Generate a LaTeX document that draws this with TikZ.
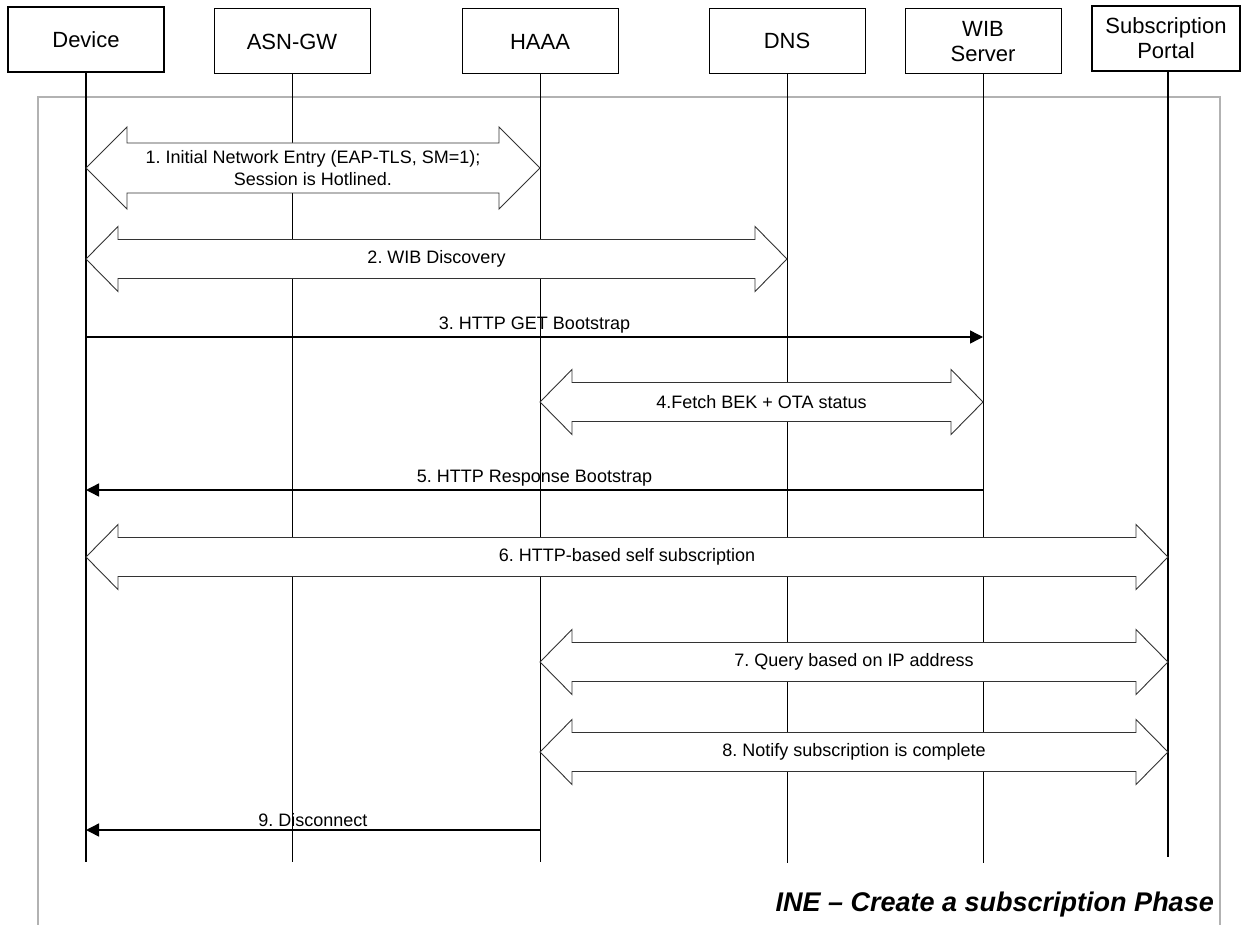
\documentclass[tikz,border=0pt]{standalone}
\usepackage{fontspec}
\setmainfont{Liberation Sans}
\usetikzlibrary{arrows.meta,calc}
\tikzset{
  actor/.style={draw=black, line width=1pt, fill=white, minimum width=156pt, minimum height=65pt,
    inner sep=0pt, align=center, font=\fontsize{22}{25}\selectfont},
  lifeline/.style={draw=black, line width=0.9pt},
  blockarrow/.style={draw=black!80, line width=0.9pt, fill=white, line join=miter},
  msg/.style={draw=black, line width=1.4pt, -{Triangle[length=13pt,width=13pt]}},
  lbl/.style={font=\fontsize{18}{22}\selectfont, inner sep=0pt, align=center},
  frame/.style={draw=black!30, line width=1.6pt}
}
\newcommand{\dblarrow}[5]{%
  \draw[blockarrow] let \p1=(#1), \p2=(#2) in
    (\x1,\y1) -- (\x1+#5,\y1+#4) -- (\x1+#5,\y1+#3) -- (\x2-#5,\y1+#3) -- (\x2-#5,\y1+#4)
    -- (\x2,\y1) -- (\x2-#5,\y1-#4) -- (\x2-#5,\y1-#3) -- (\x1+#5,\y1-#3) -- (\x1+#5,\y1-#4) -- cycle;}
\begin{document}
\frenchspacing
\begin{tikzpicture}[x=1pt,y=-1pt]
\useasboundingbox (0,0) rectangle (1241,925);
% frame
\draw[frame] (38,960) -- (38,97) -- (1220,97) -- (1220,960);
% actors
\node[actor, line width=1.4pt] (dev) at (86,39.5) {Device};
\node[actor] (asn) at (292,41.5) {ASN-GW};
\node[actor] (haaa) at (540,41.5) {HAAA};
\node[actor] (dns) at (787,41) {DNS};
\node[actor] (wib) at (983,41.5) {WIB\\Server};
\node[actor, line width=1.4pt, minimum width=148pt] (sp) at (1166,38.5) {Subscription\\Portal};
% lifeline ends
\coordinate (devE) at (86,862);
\coordinate (asnE) at (292,862);
\coordinate (haaaE) at (540,862);
\coordinate (dnsE) at (787,863);
\coordinate (wibE) at (983,863);
\coordinate (spE) at (1168,857);
\draw[lifeline, line width=1.2pt] (dev.south) -- (devE);
\draw[lifeline] (asn.south) -- (asnE);
\draw[lifeline] (haaa.south) -- (haaaE);
\draw[lifeline] (dns.south) -- (dnsE);
\draw[lifeline] (wib.south) -- (wibE);
\draw[lifeline, line width=1.8pt] (sp.south -| spE) -- (spE);
% message row coordinates
\coordinate (m1a) at (86,168);  \coordinate (m1b) at (540,168);
\coordinate (m2a) at (86,259);  \coordinate (m2b) at (787,259);
\coordinate (m3a) at (86,337);  \coordinate (m3b) at (983,337);
\coordinate (m4a) at (540,402); \coordinate (m4b) at (983,402);
\coordinate (m5a) at (983,490); \coordinate (m5b) at (86,490);
\coordinate (m6a) at (86,557);  \coordinate (m6b) at (1168,557);
\coordinate (m7a) at (540,662); \coordinate (m7b) at (1168,662);
\coordinate (m8a) at (540,752); \coordinate (m8b) at (1168,752);
\coordinate (m9a) at (540,830); \coordinate (m9b) at (86,830);
% block arrows
\dblarrow{m1a}{m1b}{25pt}{41pt}{41pt}
\node[lbl] (t1) at ($(m1a)!0.5!(m1b)$) {1. Initial Network Entry (EAP-TLS, SM=1);\\Session is Hotlined.};
\dblarrow{m2a}{m2b}{19.5pt}{32.5pt}{32pt}
\node[lbl] (t2) at ($(m2a)!0.5!(m2b)$) {2. WIB Discovery};
\draw[msg] (m3a) -- (m3b) node[lbl, midway, above=3pt] (t3) {3. HTTP GET Bootstrap};
\dblarrow{m4a}{m4b}{19.5pt}{32.5pt}{32pt}
\node[lbl] (t4) at ($(m4a)!0.5!(m4b)$) {4.Fetch BEK + OTA status};
\draw[msg] (m5a) -- (m5b) node[lbl, midway, above=3pt] (t5) {5. HTTP Response Bootstrap};
\dblarrow{m6a}{m6b}{19.5pt}{32.5pt}{32pt}
\node[lbl] (t6) at ($(m6a)!0.5!(m6b)$) {6. HTTP-based self subscription};
\dblarrow{m7a}{m7b}{19.5pt}{32.5pt}{32pt}
\node[lbl] (t7) at ($(m7a)!0.5!(m7b)$) {7. Query based on IP address};
\dblarrow{m8a}{m8b}{19.5pt}{32.5pt}{32pt}
\node[lbl] (t8) at ($(m8a)!0.5!(m8b)$) {8. Notify subscription is complete};
\draw[msg] (m9a) -- (m9b) node[lbl, midway, above=3pt] (t9) {9. Disconnect};
% title
\node[anchor=east, inner sep=0pt, font=\fontsize{27}{30}\selectfont\bfseries\itshape] (title) at (1214,905) {INE – Create a subscription Phase};
\end{tikzpicture}
\end{document}
